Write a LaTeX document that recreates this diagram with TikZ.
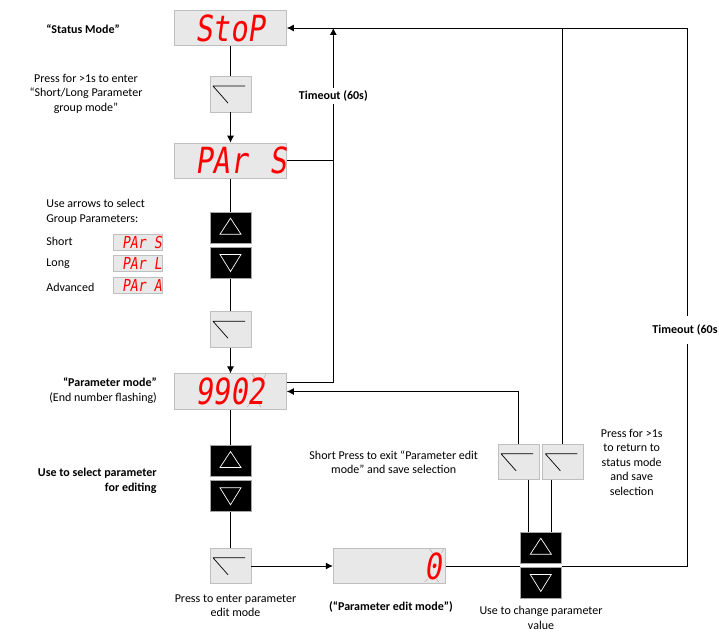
\documentclass[tikz,border=0pt,12pt]{standalone}
\usepackage{fontspec}
\setmainfont{Carlito}
\newfontfamily\segfont[FakeSlant=0.18]{DejaVu Sans Mono}
\usetikzlibrary{positioning, arrows.meta}

\definecolor{dispfill}{HTML}{E8E8E8}
\definecolor{dispedge}{HTML}{BFBFBF}
\definecolor{keyedge}{HTML}{A6A6A6}
\definecolor{flashgray}{HTML}{B4B4B4}

\newcommand{\bigseg}[1]{\scalebox{0.8}[1]{\fontsize{36}{36}\selectfont #1}}
\newcommand{\smallseg}[1]{\scalebox{0.8}[1]{\fontsize{16.5}{16.5}\selectfont #1}}

\tikzset{
    disp/.style={draw=dispedge, fill=dispfill, minimum width=112, minimum height=35.5, inner sep=0,
        text=red, font=\segfont, text width=70, align=left},
    sdisp/.style={draw=dispedge, fill=dispfill, minimum width=49, minimum height=16, inner sep=0,
        text=red, font=\segfont, text width=32, align=left},
    key/.style={draw=dispedge, fill=dispfill, minimum width=41, minimum height=35.5, inner sep=0,
        path picture={\draw[black, line width=0.7pt]
            ([shift={(3pt,-9.5pt)}]path picture bounding box.north west) -- ++(32pt,0pt)
            ([shift={(3pt,-9.5pt)}]path picture bounding box.north west) -- ++(15pt,-17pt);}},
    upkey/.style={draw=keyedge, fill=black, minimum width=41, minimum height=31, inner sep=0,
        path picture={\draw[white, line width=0.7pt]
            ([yshift=9.5pt]path picture bounding box.center) -- ++(10.5pt,-16pt) -- ++(-21pt,0pt) -- cycle;}},
    downkey/.style={draw=keyedge, fill=black, minimum width=41, minimum height=31, inner sep=0,
        path picture={\draw[white, line width=0.7pt]
            ([yshift=-8.5pt]path picture bounding box.center) -- ++(10.5pt,17pt) -- ++(-21pt,0pt) -- cycle;}},
    lbl/.style={inner sep=0},
    flash/.style={draw=flashgray, line width=0.6pt},
    arr/.style={-{Latex[length=7pt,width=7pt]}}
}

\begin{document}
\begin{tikzpicture}[x=1pt, y=-1pt, line width=0.8pt]
    \useasboundingbox (0,0) rectangle (719,631);

    \node[disp] (stop) at (230.5,28) {\bigseg{StoP}};
    \node[key] (keyA) at (230.5,94.3) {};
    \node[disp] (parS) at (230.5,160.8) {\bigseg{PAr\hspace*{27pt}S}};
    \node[upkey] (upA) at (230.5,227.7) {};
    \node[downkey] (downA) at (230.5,263) {};
    \node[key] (keyB) at (230.5,329.5) {};
    \node[disp] (p9902) at (230.5,391.5) {\bigseg{9902}};
    \node[upkey] (upB) at (230.5,461) {};
    \node[downkey] (downB) at (230.5,496.3) {};
    \node[key] (keyC) at (230.5,566) {};
    \node[disp, text width=106, align=right] (edit) at (389.2,566) {\bigseg{0}};
    \node[upkey] (upR) at (540.8,547.7) {};
    \node[downkey] (downR) at (540.8,583) {};
    \node[key] (keyL) at (518.5,462) {};
    \node[key] (keyR) at (562.8,462) {};

    \node[sdisp] (shortS) at (138,242.5) {\smallseg{PAr\hspace*{10pt}S}};
    \node[sdisp] (longL) at (138,263.8) {\smallseg{PAr\hspace*{10pt}L}};
    \node[sdisp] (advA) at (138,285.3) {\smallseg{PAr\hspace*{10pt}A}};

    \foreach \cx/\cy in {257/391, 434.5/566}
        \foreach \a/\b/\e/\f in {-5/-17/-2/-13, 9/-17/7/-13, -10/16/-7/13, 4/16/2/13}
            \draw[flash] ({\cx+\a},{\cy+\b}) -- ({\cx+\e},{\cy+\f});

    \coordinate (rtop) at (687,28);
    \coordinate (tmtop) at (333.3,28);

    \draw (stop) -- (keyA);
    \draw[arr] (keyA) -- (parS);
    \draw (parS) -- (upA);
    \draw (downA) -- (keyB);
    \draw[arr] (keyB) -- (p9902);
    \draw (p9902) -- (upB);
    \draw (downB) -- (keyC);
    \draw[arr] (keyC) -- (edit);
    \draw (edit) -- (edit.east -| downR.west);
    \draw[arr] (downR.east |- edit.east) -| (rtop) -- (stop.east);
    \draw (keyR.north) -- (keyR.north |- stop.east);
    \draw[arr] (keyL.north) |- (p9902.east);
    \draw ([xshift=-12pt]upR.north) -- ([xshift=-12pt]upR.north |- keyL.south);
    \draw ([xshift=11pt]upR.north) -- ([xshift=11pt]upR.north |- keyR.south);
    \draw (parS.east) -- (parS.east -| tmtop);
    \draw[arr] ([yshift=9.3pt]p9902.east) -| (tmtop);

    \node[lbl, font=\bfseries] (statuslbl) at (83,29) {“Status Mode”};
    \node[lbl, align=center] (enterlbl) at (86,93.5) {Press for >1s to enter\\“Short/Long Parameter\\group mode”};
    \node[lbl, align=left, anchor=west] (grouplbl) at (46,211.8) {Use arrows to select\\Group Parameters:};
    \node[lbl, anchor=west] (shortlbl) at (46,241.3) {Short};
    \node[lbl, anchor=west] (longlbl) at (46,264) {Long};
    \node[lbl, anchor=west] (advlbl) at (46,287.3) {Advanced};
    \node[lbl, align=right, anchor=east] (parmodelbl) at (157.3,390.5) {\textbf{“Parameter mode”}\\(End number flashing)};
    \node[lbl, align=right, anchor=east, font=\bfseries] (selectlbl) at (157,480.8) {Use to select parameter\\for editing};
    \node[lbl, align=center] (pressedit) at (235.5,605.7) {Press to enter parameter\\edit mode};
    \node[lbl, font=\bfseries] (editlbl) at (391,607) {(“Parameter edit mode”)};
    \node[lbl, align=center] (changelbl) at (541,617.7) {Use to change parameter\\value};
    \node[lbl, align=center] (exitlbl) at (393.7,462.3) {Short Press to exit “Parameter edit\\mode” and save selection};
    \node[lbl, align=center] (returnlbl) at (631.7,462.3) {Press for >1s\\to return to\\status mode\\and save\\selection};
    \node[lbl, fill=white, inner sep=3pt, font=\bfseries] (timeoutA) at (333.3,96) {Timeout (60s)};
    \node[lbl, fill=white, inner ysep=9pt, inner xsep=2pt, anchor=west, font=\bfseries] (timeoutB) at (650,330) {Timeout (60s};
\end{tikzpicture}
\end{document}
